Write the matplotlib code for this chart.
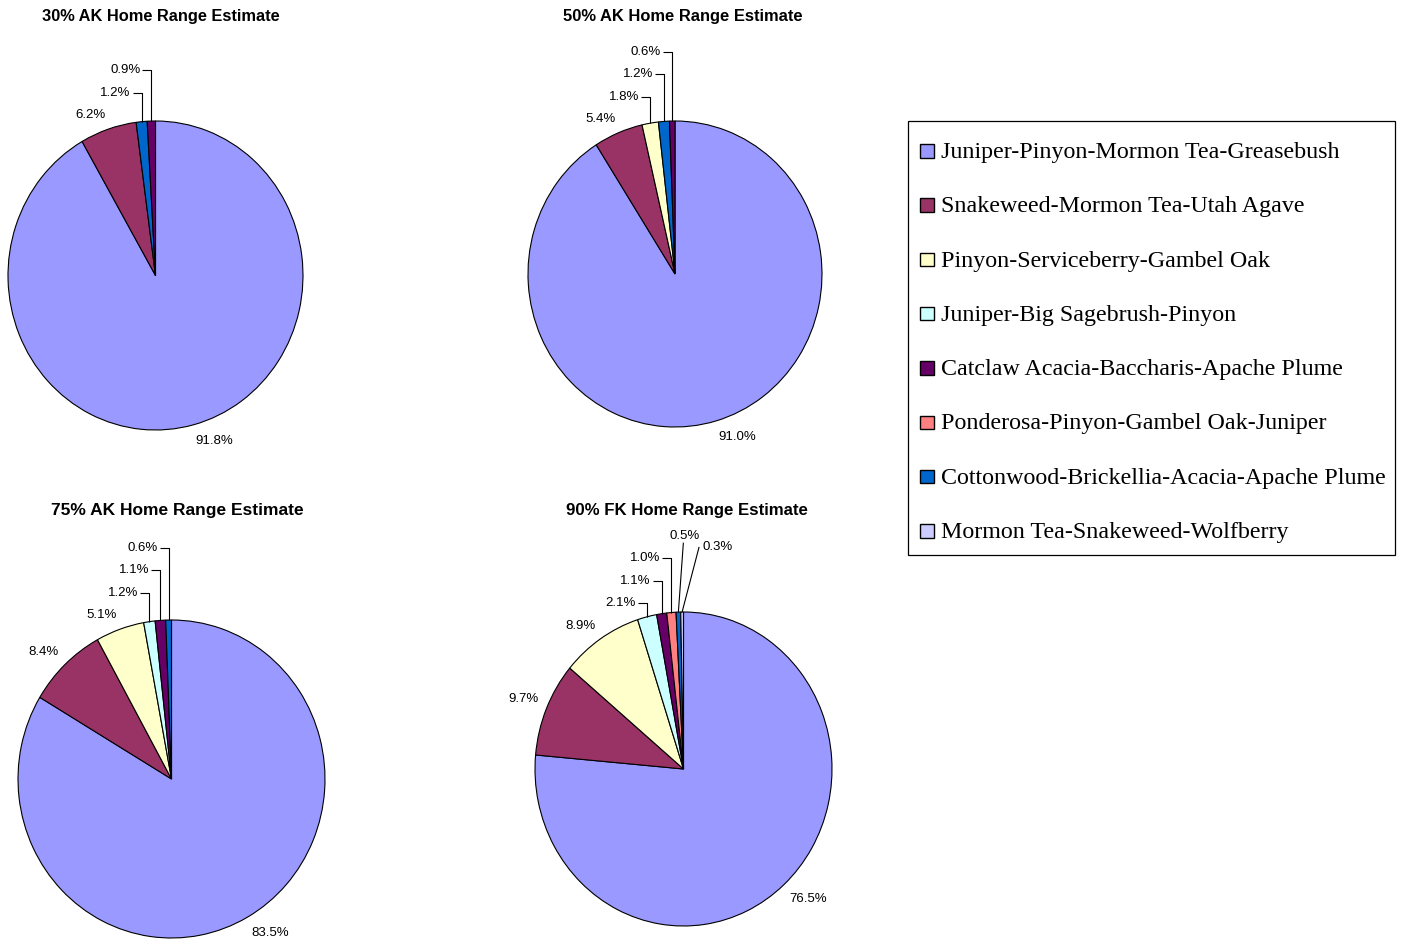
import matplotlib
matplotlib.use("Agg")
import matplotlib.pyplot as plt
from matplotlib.patches import Rectangle
import numpy as np

W, H = 1405, 940

categories = [
    "Juniper-Pinyon-Mormon Tea-Greasebush",
    "Snakeweed-Mormon Tea-Utah Agave",
    "Pinyon-Serviceberry-Gambel Oak",
    "Juniper-Big Sagebrush-Pinyon",
    "Catclaw Acacia-Baccharis-Apache Plume",
    "Ponderosa-Pinyon-Gambel Oak-Juniper",
    "Cottonwood-Brickellia-Acacia-Apache Plume",
    "Mormon Tea-Snakeweed-Wolfberry",
]
category_colors = ["#9999FF", "#993366", "#FFFFCC", "#CCFFFF",
                   "#660066", "#FF8080", "#0066CC", "#CCCCFF"]

titles = ["30% AK Home Range Estimate", "50% AK Home Range Estimate",
          "75% AK Home Range Estimate", "90% FK Home Range Estimate"]

# Slices in drawing order (clockwise from 12 o'clock): category index, percent
ak30_cats = [0, 1, 6, 4]
ak30_vals = [91.8, 6.2, 1.2, 0.9]
ak50_cats = [0, 1, 2, 6, 4]
ak50_vals = [91.0, 5.4, 1.8, 1.2, 0.6]
ak75_cats = [0, 1, 2, 3, 4, 6]
ak75_vals = [83.5, 8.4, 5.1, 1.2, 1.1, 0.6]
fk90_cats = [0, 1, 2, 3, 4, 5, 6, 7]
fk90_vals = [76.5, 9.7, 8.9, 2.1, 1.1, 1.0, 0.5, 0.3]

pies = [(ak30_cats, ak30_vals), (ak50_cats, ak50_vals),
        (ak75_cats, ak75_vals), (fk90_cats, fk90_vals)]

# pie geometry in pixels: centre x, centre y, x radius, y radius
geometry = [(155.5, 275.5, 147.5, 154.5), (675, 274, 147, 153),
            (171.5, 779, 153.5, 159), (683.5, 769, 148.5, 157)]
# title centre in pixels and font size
title_pos = [(161, 16), (683, 16), (177, 510), (686.5, 511)]
title_size = [11.8, 11.9, 12.5, 12.1]

LABEL_FONT = dict(family="Liberation Sans", fontsize=9.5, color="black")
STEP = 22.5
HALF_H_UP = 6.0
HALF_H_DOWN = 8.0
LEADER = dict(color="black", lw=0.8, solid_capstyle="butt")

fig = plt.figure(figsize=(W / 100, H / 100), dpi=100)
fig.patch.set_facecolor("white")

pie_axes = []
for (cx, cy, rx, ry) in geometry:
    ax = fig.add_axes([(cx - rx) / W, 1 - (cy + ry) / H, 2 * rx / W, 2 * ry / H])
    pie_axes.append(ax)

overlay = fig.add_axes([0, 0, 1, 1])
overlay.set_xlim(0, W)
overlay.set_ylim(H, 0)
overlay.axis("off")


def to_px(ax, r, ang):
    a = np.radians(ang)
    pt = ax.transData.transform((r * np.cos(a), r * np.sin(a)))
    return overlay.transData.inverted().transform(pt)


for ax, (cats, vals), title, (tx0, ty0), tsize in zip(pie_axes, pies, titles,
                                                      title_pos, title_size):
    wedges, _ = ax.pie(vals, colors=[category_colors[c] for c in cats],
                       startangle=90, counterclock=False,
                       wedgeprops=dict(edgecolor="black", linewidth=0.8))
    ax.set_xlim(-1, 1)
    ax.set_ylim(-1, 1)
    ax.set_aspect("auto")
    ax.axis("off")

    overlay.text(tx0, ty0, title, ha="center", va="center",
                 family="Liberation Sans", fontweight="bold", fontsize=tsize)

    prev_y = None
    prev2 = None
    stacked = 0
    for i, (w, v) in enumerate(zip(wedges, vals)):
        mid = 0.5 * (w.theta1 + w.theta2)
        txt = f"{v:.1f}%"
        if v >= 3 or prev_y is None:
            # the label corner nearest the pie sits just outside the rim
            nx, ny = to_px(ax, 1.055, mid)
            ha = "left" if np.cos(np.radians(mid)) > 0 else "right"
            ny = ny - HALF_H_UP if np.sin(np.radians(mid)) > 0 else ny + HALF_H_DOWN
            overlay.text(nx, ny, txt, ha=ha, va="center", **LABEL_FONT)
            if i > 0:
                prev_y = ny
            continue
        ex, ey = to_px(ax, 1.0, mid)
        stacked += 1
        if stacked <= 3:
            # stacked to the upper left with an elbow leader
            ly = prev_y - STEP
            overlay.text(ex - 11, ly, txt, ha="right", va="center", **LABEL_FONT)
            overlay.plot([ex - 9, ex, ex], [ly, ly, ey], **LEADER)
            prev2, prev_y = prev_y, ly
        elif stacked == 4:
            # centred above its slice
            ly = prev_y - STEP
            tx = ex + 6
            overlay.text(tx, ly, txt, ha="center", va="center", **LABEL_FONT)
            overlay.plot([tx - 1, ex], [ly + 7, ey], **LEADER)
            prev2, prev_y = prev_y, ly
        else:
            # to the right of 12 o'clock
            ly = 0.5 * (prev2 + prev_y)
            tx = ex + 20
            overlay.text(tx, ly, txt, ha="left", va="center", **LABEL_FONT)
            overlay.plot([tx - 3, ex], [ly, ey], **LEADER)

# legend box
overlay.add_patch(Rectangle((908, 121), 487, 434, facecolor="white",
                            edgecolor="black", lw=0.9, zorder=1))
for k, (name, col) in enumerate(zip(categories, category_colors)):
    y = 150 + k * 54.3
    overlay.add_patch(Rectangle((920, y - 6), 13.5, 13.5, facecolor=col,
                                edgecolor="black", lw=1.0, zorder=2))
    overlay.text(941, y + 2.5, name, ha="left", va="center", family="Liberation Serif",
                 fontsize=17.3, color="black", zorder=3)

fig.savefig("out.png", dpi=100, facecolor="white")
